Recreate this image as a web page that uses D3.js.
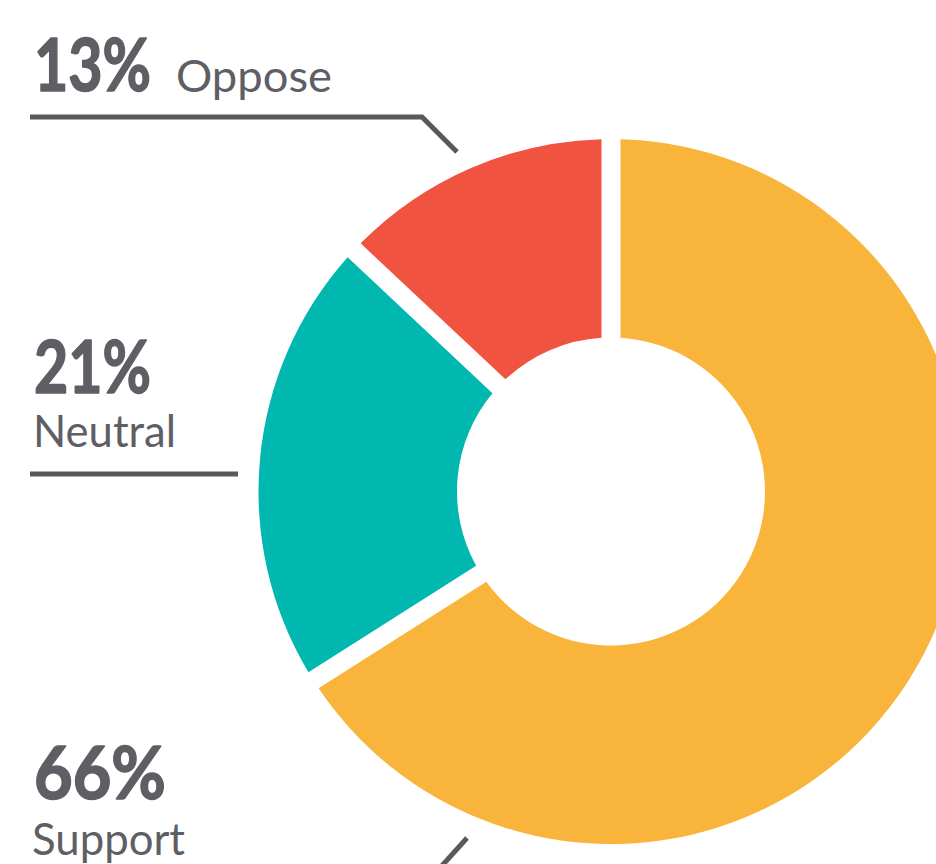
<!DOCTYPE html>
<html>
  <head>
    <meta charset="utf-8">
    <title>Support donut</title>
<style>
body { margin: 0; background: #fff; }
.pct { font-family: Lato, sans-serif; font-weight: 700; fill: #5e5f64; stroke: #5e5f64; stroke-width: 1.6px; stroke-linejoin: round; }
.lbl { font-family: Lato, sans-serif; font-weight: 400; fill: #5e5f64; }
.leader { fill: none; stroke: #58595b; stroke-width: 5px; }
</style>
	<script src="https://d3js.org/d3.v7.min.js"></script>
  </head>
  <body>
	<script type="text/javascript">

		// data
		var categories = ["Support", "Neutral", "Oppose"];
		var values = [66, 21, 13];
		var colors = ["#f9b43b", "#00b8b0", "#f05440"];

		var width = 936, height = 864;
		var cx = 611, cy = 491.5,
			outerR = 352.5, innerR = 154;

		var svg = d3.select("body").append("svg")
			.attr("width", width)
			.attr("height", height);

		var pie = d3.pie()
			.sort(null)
			.value(function(d) { return d; });

		var arc = d3.arc()
			.innerRadius(innerR)
			.outerRadius(outerR)
			.padRadius(100)
			.padAngle(0.19);

		var color = d3.scaleOrdinal().domain(categories).range(colors);

		svg.append("g")
			.attr("transform", "translate(" + cx + "," + cy + ")")
			.selectAll("path")
			.data(pie(values))
			.enter().append("path")
			.attr("fill", function(d, i) { return color(categories[i]); })
			.attr("d", arc);

		// label placement (layout only)
		var labels = {
			Oppose:  {px: 34, py: 91,  pw: 117, lx: 176, ly: 92,  lw: 156,
			          line: [[30, 117], [422, 117], [457, 152]]},
			Neutral: {px: 34, py: 393, pw: 117, lx: 33,  ly: 447, lw: 143,
			          line: [[30, 474], [238, 474]]},
			Support: {px: 34, py: 799, pw: 132, lx: 32,  ly: 855, lw: 153,
			          line: [[467, 838], [420, 890]]}
		};

		var line = d3.line();

		categories.forEach(function(c, i) {
			var L = labels[c];
			svg.append("text")
				.attr("class", "pct")
				.attr("x", L.px).attr("y", L.py)
				.attr("font-size", 72)
				.attr("textLength", L.pw)
				.attr("lengthAdjust", "spacingAndGlyphs")
				.text(values[i] + "%");
			svg.append("text")
				.attr("class", "lbl")
				.attr("x", L.lx).attr("y", L.ly)
				.attr("font-size", 45)
				.attr("textLength", L.lw)
				.attr("lengthAdjust", "spacingAndGlyphs")
				.text(c);
			svg.append("path")
				.attr("class", "leader")
				.attr("d", line(L.line));
		});

    </script>
  </body>
</html>
